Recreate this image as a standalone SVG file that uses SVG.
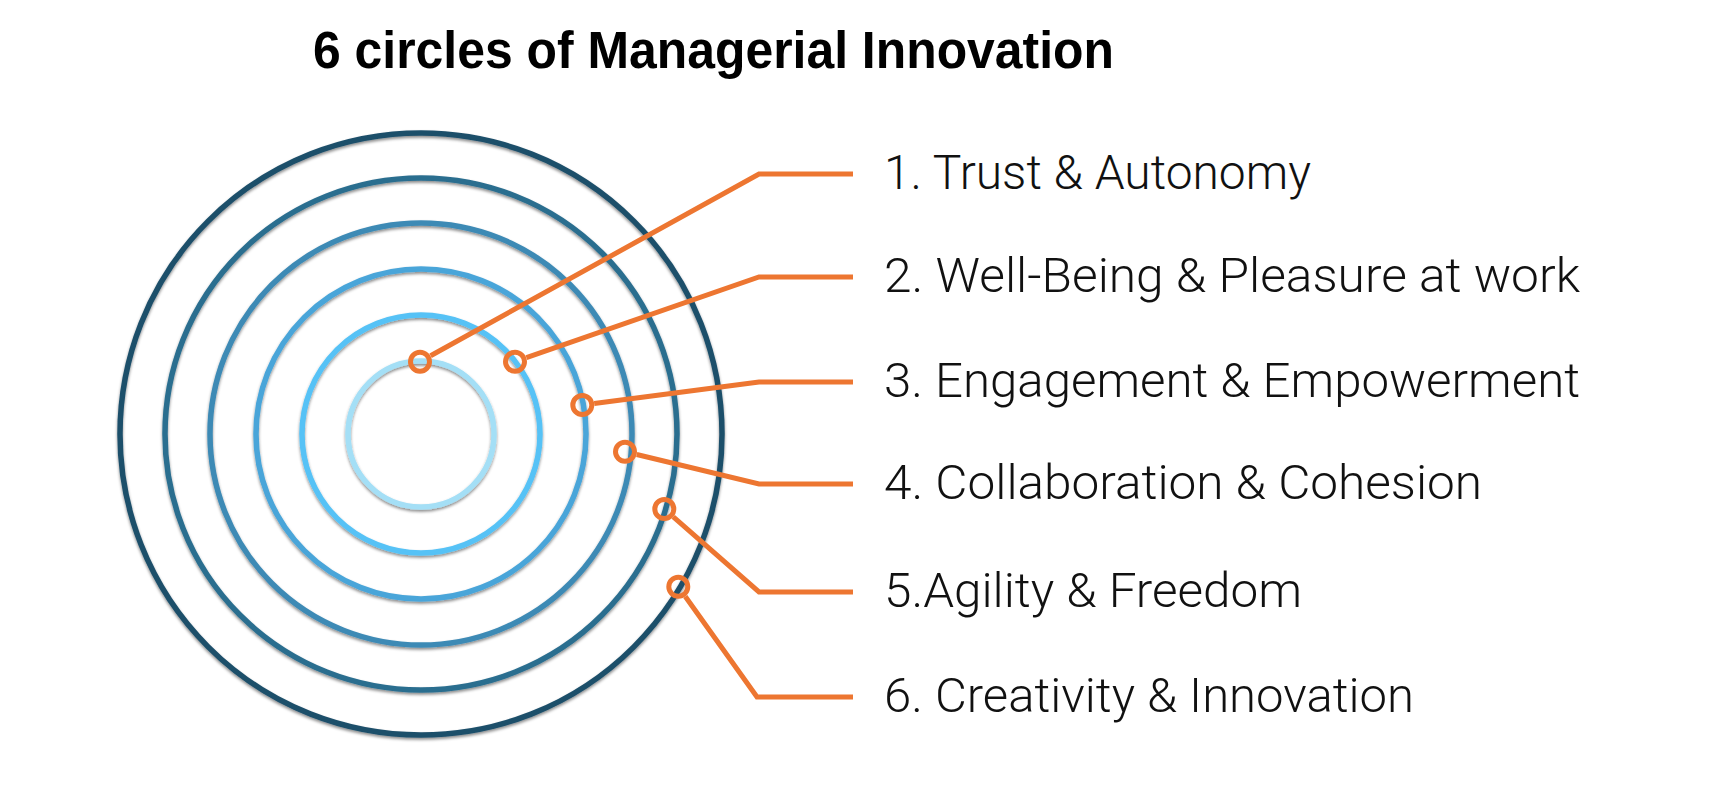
<svg xmlns="http://www.w3.org/2000/svg" width="1712" height="790" viewBox="0 0 1712 790">
<style>
.ring{fill:none;stroke-width:5.5;filter:url(#sh)}
.mk{fill:none;stroke:#ed7631;stroke-width:5}
.ln{fill:none;stroke:#ed7631;stroke-width:5;stroke-linejoin:miter}
.lbl{font-family:Roboto,"Liberation Sans",Arial,sans-serif;font-weight:300;font-size:48px;fill:#111}
.title{font-family:"Liberation Sans",Arial,sans-serif;font-weight:bold;font-size:51px;fill:#000}
</style>
<defs>
<filter id="sh" x="-10%" y="-10%" width="120%" height="120%">
<feDropShadow dx="0" dy="2" stdDeviation="1.4" flood-color="#000" flood-opacity="0.45"/>
</filter>
</defs>
<rect width="1712" height="790" fill="#fff"/>
<text class="title" x="313" y="68" textLength="801" lengthAdjust="spacingAndGlyphs">6 circles of Managerial Innovation</text>
<g id="rings">
<circle id="ring6" class="ring" cx="421" cy="434" r="301" stroke="#1e4f6a"/>
<circle id="ring5" class="ring" cx="421" cy="434" r="256" stroke="#2b6e8f"/>
<circle id="ring4" class="ring" cx="421" cy="434" r="211" stroke="#3e8ab5"/>
<circle id="ring3" class="ring" cx="421" cy="434" r="165" stroke="#4aa5d9"/>
<circle id="ring2" class="ring" cx="421" cy="434" r="119" stroke="#56c2f6"/>
<circle id="ring1" class="ring" cx="421" cy="434" r="73" stroke="#a4dff6"/>
</g>
<g id="connectors">
<polyline class="ln" points="430.6,355.8 759,174 853,174"/>
<polyline class="ln" points="526.4,357.7 759,277 853,277"/>
<polyline class="ln" points="594.2,403.4 759,382 853,382"/>
<polyline class="ln" points="636.7,454.5 759,484 853,484"/>
<polyline class="ln" points="673.3,516.9 759,592 853,592"/>
<polyline class="ln" points="685.3,596.5 757,697 853,697"/>
</g>
<g id="markers">
<circle class="mk" cx="420" cy="361.7" r="9.5"/>
<circle class="mk" cx="515" cy="361.7" r="9.5"/>
<circle class="mk" cx="582.3" cy="405" r="9.5"/>
<circle class="mk" cx="625" cy="451.7" r="9.5"/>
<circle class="mk" cx="664.3" cy="509" r="9.5"/>
<circle class="mk" cx="678.3" cy="586.7" r="9.5"/>
</g>
<g id="label1"><text class="lbl" x="884" y="189" textLength="427" lengthAdjust="spacingAndGlyphs">1. Trust &amp; Autonomy</text></g>
<g id="label2"><text class="lbl" x="884" y="292" textLength="696" lengthAdjust="spacingAndGlyphs">2. Well-Being &amp; Pleasure at work</text></g>
<g id="label3"><text class="lbl" x="884" y="397" textLength="696" lengthAdjust="spacingAndGlyphs">3. Engagement &amp; Empowerment</text></g>
<g id="label4"><text class="lbl" x="884" y="499" textLength="598" lengthAdjust="spacingAndGlyphs">4. Collaboration &amp; Cohesion</text></g>
<g id="label5"><text class="lbl" x="884" y="607" textLength="418" lengthAdjust="spacingAndGlyphs">5.Agility &amp; Freedom</text></g>
<g id="label6"><text class="lbl" x="884" y="712" textLength="530" lengthAdjust="spacingAndGlyphs">6. Creativity &amp; Innovation</text></g>
</svg>
